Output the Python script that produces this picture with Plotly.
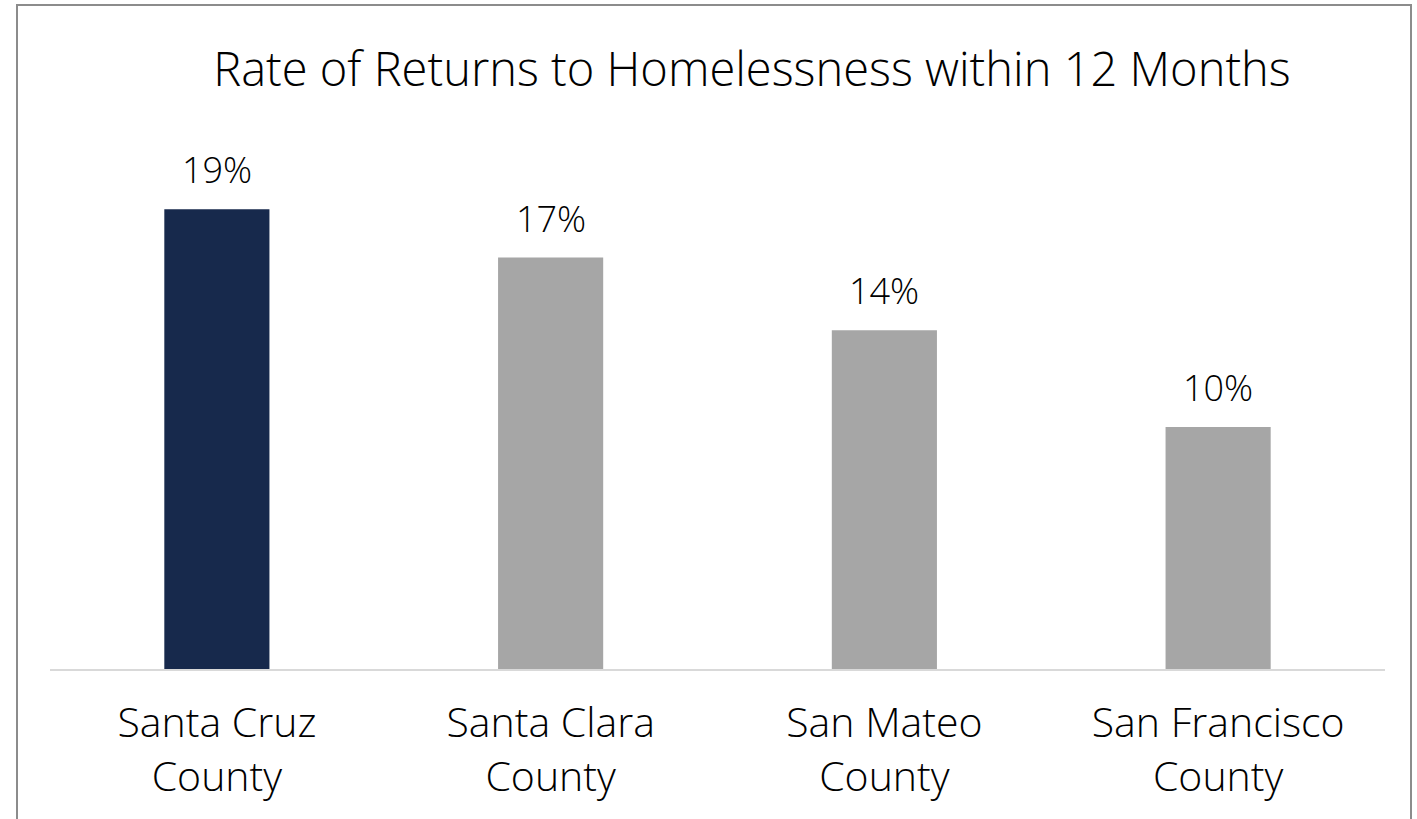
import plotly.graph_objects as go

categories = ["Santa Cruz<br>County", "Santa Clara<br>County", "San Mateo<br>County", "San Francisco<br>County"]
values = [19, 17, 14, 10]
labels = ["19%", "17%", "14%", "10%"]
colors = ["#17294c", "#a6a6a6", "#a6a6a6", "#a6a6a6"]

FONT = "Open Sans"
W = 300

fig = go.Figure()
fig.add_trace(go.Bar(x=categories, y=values, marker=dict(color=colors, line=dict(width=0)),
                     hoverinfo="skip"))

for c, v, t in zip(categories, values, labels):
    fig.add_annotation(x=c, y=v, text=t, showarrow=False, yanchor="bottom", yshift=13,
                       font=dict(family=FONT, size=36, color="#000000", weight=W))

fig.update_layout(
    width=1417, height=819,
    margin=dict(l=50, r=32, t=15, b=150),
    paper_bgcolor="white", plot_bgcolor="white",
    bargap=0.685,
    showlegend=False,
    title=dict(text="Rate of Returns to Homelessness within 12 Months",
               font=dict(family=FONT, size=47, color="#000000", weight=W),
               x=752/1417, xanchor="center", y=1-70/819, yanchor="middle", yref="container"),
    xaxis=dict(showline=True, linecolor="#d9d9d9", linewidth=2, ticks="", showgrid=False,
               tickfont=dict(family=FONT, size=41, color="#000000", weight=W), ticklabelstandoff=17),
    yaxis=dict(range=[0, 654/24.2], visible=False, showgrid=False, zeroline=False),
)

# outer border
fig.add_shape(type="rect", xref="paper", yref="paper",
              x0=(17-50)/1335, x1=(1411-50)/1335, y0=(669-860)/654, y1=(669-5)/654,
              line=dict(color="#8c8c8c", width=2), fillcolor="rgba(0,0,0,0)", layer="below")

fig.write_html("out.html")
